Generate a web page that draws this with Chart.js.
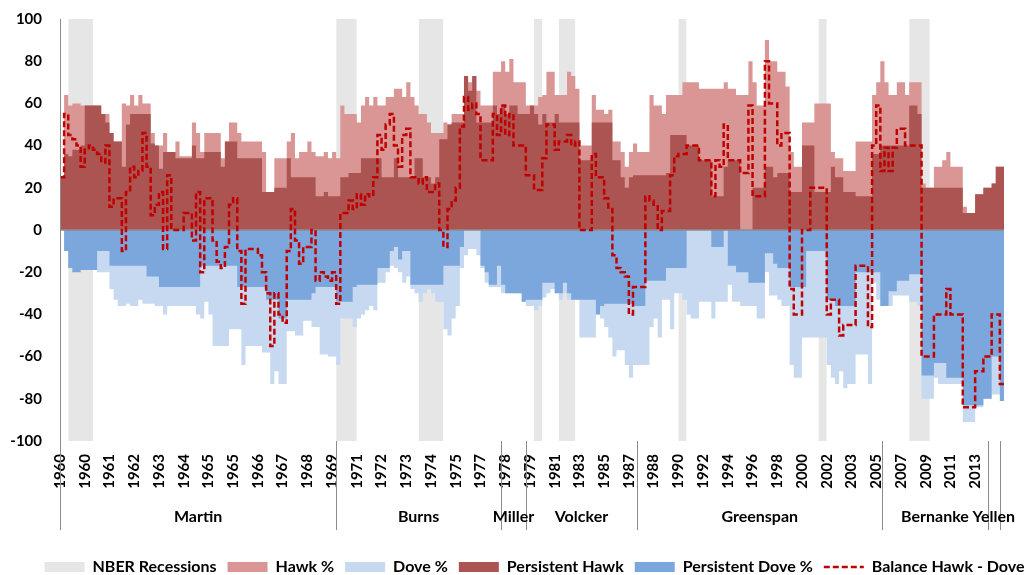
<!DOCTYPE html>
<html><head><meta charset="utf-8">
<script src="https://cdn.jsdelivr.net/npm/chart.js@4.4.0/dist/chart.umd.min.js"></script>
<style>html,body{margin:0;padding:0;background:#fff;}</style>
</head><body>
<canvas id="c" width="1035" height="575"></canvas>
<script>
// ---- tick labels (one every `ticksEvery` meetings) ----
const tickLabels = ['1960','1960','1961','1962','1963','1964','1965','1965','1966','1967','1968','1969',
  '1971','1972','1973','1974','1975','1977','1978','1979','1981','1983','1985','1987','1988','1990',
  '1992','1994','1996','1998','2000','2002','2003','2005','2007','2009','2011','2013'];
const ticksEvery = 6;

// ---- series ----
const hawk = [
 25,64,59,60,60,59,59,59,59,59, 55,55,46,42,42,60,59,64,59,64, 60,60,46,40,40,46,37,37,42,35,
 35,35,51,46,37,46,46,46,46,34, 42,51,51,46,42,42,42,42,42,37, 18,18,34,34,34,42,46,34,37,37,
 42,37,35,35,37,34,37,34,59,55, 55,55,51,59,63,59,63,59,59,63, 63,67,67,63,70,63,59,55,55,51,
 46,46,46,51,50,55,55,55,73,70, 73,66,59,59,59,75,75,80,75,81, 70,70,70,59,59,59,63,
 64,75,75,64,64,64,75,73,67,40, 40,40,64,57,57,55,57,42,42,37, 30,37,41,37,37,37,64,59,59,55,
 64,64,64,64,70,70,70,70,67,67, 67,67,67,67,70,67,67,64,64,64, 80,70,59,59,90,80,80,75,75,68,
 37,30,30,51,51,51,60,60,60,60, 37,34,34,28,28,28,42,42,42,42, 64,70,80,70,64,64,70,70,64,70,
 70,70,22,20,20,30,30,33,37,30, 30,30,11,8,8,17,17,20,20,22, 30,30,30];
const dove = [
 0,-10,-18,-20,-20,-19,-19,-19,-19,-20, -20,-20,-28,-33,-36,-36,-35,-36,-36,-33, -35,-35,-35,-36,-36,-40,-36,-36,-36,-36,
 -36,-36,-36,-40,-42,-34,-40,-55,-55,-55, -55,-47,-47,-47,-64,-55,-55,-55,-55,-58, -58,-73,-67,-73,-73,-48,-48,-50,-50,-43,
 -43,-46,-46,-59,-59,-60,-60,-64,-42,-42, -42,-46,-42,-40,-38,-36,-38,-25,-25,-20, -17,-18,-20,-25,-22,-28,-30,-34,-30,-28,
 -30,-34,-34,-47,-50,-42,-36,-18,-12,-9, -9,-12,-18,-25,-27,-27,-27,-30,-30,-30, -30,-30,-34,-36,-36,-38,-36,
 -32,-30,-28,-30,-33,-30,-33,-33,-33,-51, -51,-51,-51,-40,-42,-46,-51,-60,-57,-57, -64,-70,-64,-64,-64,-64,-46,-42,-51,-33,
 -33,-47,-30,-30,-33,-40,-42,-42,-34,-34, -34,-42,-34,-34,-34,-26,-34,-34,-36,-36, -36,-36,-42,-42,-20,-31,-31,-33,-36,-36,
 -64,-70,-70,-51,-51,-51,-51,-51,-51,-64, -70,-73,-67,-75,-73,-73,-59,-59,-59,-73, -25,-33,-36,-36,-36,-31,-31,-31,-31,-34,
 -34,-36,-80,-80,-80,-70,-73,-73,-73,-73, -73,-73,-91,-91,-91,-84,-84,-80,-80,-78, -78,-81,-81];
const persistentHawk = [
 25,36,35,38,38,40,59,59,59,59, 55,51,46,42,42,30,50,55,55,55, 55,55,41,40,29,37,37,37,34,34,
 34,34,40,34,34,37,37,37,37,30, 42,42,42,34,34,34,34,34,34,18, 18,18,20,20,20,34,25,25,25,25,
 25,25,16,16,18,16,16,16,25,25, 27,27,27,34,34,34,34,34,25,25, 25,34,25,25,25,25,34,34,25,25,
 22,25,43,43,50,51,51,51,73,66, 73,51,51,51,51,59,55,59,55,59, 59,55,55,55,59,55,50,
 55,51,51,55,51,51,51,51,51,33, 33,33,51,51,51,51,51,33,33,25, 20,25,26,26,26,26,26,26,26,26,
 27,45,45,45,45,40,40,40,33,33, 33,16,16,16,30,33,33,33,0,0, 0,20,20,20,30,30,25,27,27,27,
 18,18,18,40,40,40,18,18,18,18, 30,25,25,18,18,18,16,16,16,16, 36,36,40,40,40,40,40,40,40,59,
 59,55,20,20,20,20,20,20,20,20, 20,20,8,8,8,17,17,20,20,22, 30,30,30];
const persistentDove = [
 0,-10,-18,-20,-20,-19,-19,-19,-19,-10, -10,-10,-17,-17,-17,-17,-17,-17,-17,-17, -17,-22,-22,-22,-27,-27,-27,-27,-27,-27,
 -27,-27,-27,-27,-17,-17,-17,-17,-17,-17, -17,-17,-17,-27,-27,-27,-27,-27,-27,-27, -33,-33,-33,-42,-42,-33,-33,-33,-33,-33,
 -33,-30,-27,-27,-27,-27,-27,-34,-34,-34, -34,-27,-26,-26,-26,-26,-26,-18,-18,-18, -10,-8,-14,-10,-10,-26,-26,-26,-26,-26,
 -26,-26,-26,-17,-17,-17,-17,-8,0,0, 0,0,-17,-20,-26,-26,-17,-26,-30,-30, -30,-30,-34,-33,-33,-33,-33,
 -25,-25,-25,-30,-30,-25,-30,-33,-33,-33, -33,-33,-33,-40,-36,-35,-35,-35,-35,-35, -35,-35,-36,-36,-36,-24,-24,-24,-24,-24,
 -18,-18,-18,-18,-18,0,0,0,0,0, 0,-8,-8,-8,0,-17,-17,-20,-20,-20, -25,-25,-25,-25,-11,-11,-16,-18,-18,-18,
 -27,-27,-27,-27,-10,-10,-10,-10,-10,-33, -33,-36,-36,-36,-36,-36,-20,-20,-20,-20, -20,-20,-36,-36,-29,-29,-24,-24,-24,-21,
 -21,-21,-69,-69,-69,-63,-63,-63,-70,-70, -70,-70,-83,-83,-83,-83,-83,-80,-80,-60, -60,-81,-81];
const balance = [
 25,55,45,43,40,30,38,40,38,36, 32,40,11,15,15,-10,18,30,25,28, 46,30,7,12,18,-9,26,0,0,0,
 8,8,-5,18,-20,15,15,-5,-15,-18, -8,12,15,-10,-35,-9,-9,-9,-12,-20, -30,-55,-30,-40,-44,-10,10,-5,-16,-8,
 -8,0,-24,-20,-22,-24,-20,-35,8,8, 14,10,17,12,17,16,25,45,38,50, 55,40,30,45,48,25,25,22,25,18,
 18,22,0,-8,10,14,20,49,63,57, 60,55,33,33,33,55,45,59,45,55, 40,40,40,26,26,19,19,
 34,50,50,38,42,42,45,40,42,0, 0,0,36,25,25,15,10,-12,-18,-20, -22,-40,-27,-27,-27,16,14,12,0,9,
 9,26,35,36,36,40,40,40,33,33, 33,16,33,30,50,33,33,33,27,27, 59,16,16,16,80,60,60,40,46,46,
 -28,-40,-40,0,0,20,20,20,20,-40, -33,-33,-50,-45,-45,-45,-17,-17,-17,-46, 40,59,28,39,28,39,48,48,40,40,
 40,40,-60,-60,-60,-40,-40,-40,-28,-40, -40,-40,-84,-84,-84,-67,-67,-60,-60,-40, -40,-73,-73];

// NBER recessions as [first meeting index, last meeting index]
const recessions = [[2,8],[67,72],[87,93],[115,117],[121,125],[150,152],[184,186],[206,211]];
// Fed chairs as [name, start index, end index]
const chairs = [['Martin',0,67],['Burns',67,107],['Miller',107,113],['Volcker',113,140],
  ['Greenspan',140,199.5],['Bernanke',199.5,225],['Yellen',225,228]];

const meetingIndex = hawk.map((_, i) => i);
const recessionSeries = meetingIndex.map(i => recessions.some(([a, b]) => i >= a && i <= b) ? 100 : null);

Chart.defaults.font.family = 'Lato, "Open Sans", sans-serif';
Chart.defaults.color = '#000';

const LEG_DX = 17, LEG_DY = 10;
const decor = {
  id: 'decor',
  afterLayout(chart) {
    const lg = chart.legend;
    if (lg) { lg.left += LEG_DX; lg.right += LEG_DX; lg.top += LEG_DY; lg.bottom += LEG_DY; }
  },
  beforeDatasetDraw(chart, args) {
    if (args.index !== 5) return;
    const {ctx, chartArea: ca, scales: {y}} = chart;
    const py = y.getPixelForValue(0);
    ctx.save();
    ctx.strokeStyle = '#8c8c8c'; ctx.lineWidth = 1.5;
    ctx.beginPath(); ctx.moveTo(ca.left, py); ctx.lineTo(ca.right, py); ctx.stroke();
    ctx.restore();
  },
  afterDraw(chart) {
    const {ctx, chartArea: ca, scales: {x}} = chart;
    const lineBottom = ca.bottom + 89;
    ctx.save();
    ctx.strokeStyle = '#8c8c8c'; ctx.lineWidth = 1;
    ctx.beginPath();
    ctx.moveTo(Math.round(ca.left) + 0.5, ca.top); ctx.lineTo(Math.round(ca.left) + 0.5, lineBottom);
    chairs.forEach(([, , end]) => {
      const px = Math.round(x.getPixelForValue(end)) + 0.5;
      ctx.moveTo(px, ca.bottom); ctx.lineTo(px, lineBottom);
    });
    ctx.stroke();
    ctx.font = 'bold 16px Lato, "Open Sans", sans-serif';
    ctx.fillStyle = '#000'; ctx.textAlign = 'center'; ctx.textBaseline = 'middle';
    chairs.forEach(([name, s, e]) => {
      ctx.fillText(name, (x.getPixelForValue(s) + x.getPixelForValue(e)) / 2, ca.bottom + 76);
    });
    ctx.restore();
  }
};

const area = (label, data, color, order) => ({
  label, data, order, backgroundColor: color, borderColor: 'rgba(0,0,0,0)', borderWidth: 0,
  fill: 'origin', stepped: true, pointRadius: 0, pointStyle: 'rect'
});

new Chart(document.getElementById('c'), {
  type: 'line',
  data: {
    labels: meetingIndex,
    datasets: [
      { label: 'NBER Recessions', data: recessionSeries, order: 5, backgroundColor: '#e6e6e6',
        borderColor: 'rgba(0,0,0,0)', borderWidth: 0, fill: {value: -100}, stepped: true,
        pointRadius: 0, pointStyle: 'rect', spanGaps: false },
      area('Hawk %', hawk, '#d99694', 4),
      area('Dove %', dove, '#c6d9f1', 3),
      area('Persistent Hawk', persistentHawk, '#ab5452', 2),
      area('Persistent Dove %', persistentDove, '#7ca7dc', 1),
      { label: 'Balance Hawk - Dove', data: balance, order: 0, borderColor: '#c00000', backgroundColor: '#c00000',
        borderWidth: 2.5, borderDash: [6, 3], fill: false, stepped: true, pointRadius: 0, pointStyle: 'line' }
    ]
  },
  options: {
    responsive: false, animation: false, events: [],
    layout: { padding: { top: 19, left: 0, right: 0, bottom: 0 } },
    scales: {
      x: {
        type: 'category', offset: false,
        grid: { display: false, drawTicks: false }, border: { display: false },
        ticks: { autoSkip: false, maxRotation: 90, minRotation: 90, padding: 13, color: '#000',
          font: { size: 15, weight: 'bold' },
          callback: (v, i) => i % ticksEvery === 0 ? (tickLabels[i / ticksEvery] || '') : '' },
        afterFit: s => { s.height = 97; }
      },
      y: {
        min: -100, max: 100,
        grid: { display: false, drawTicks: false }, border: { display: false },
        ticks: { stepSize: 20, padding: 18, color: '#000', font: { size: 15, weight: 'bold' } },
        afterFit: s => { s.width = 60; s.paddingTop = 0; s.paddingBottom = 0; }
      },
      yR: {
        position: 'right', grid: { display: false, drawTicks: false }, border: { display: false },
        ticks: { display: false }, afterFit: s => { s.width = 28; s.paddingTop = 0; s.paddingBottom = 0; }
      }
    },
    plugins: {
      tooltip: { enabled: false },
      legend: {
        position: 'bottom',
        labels: {
          usePointStyle: true, pointStyleWidth: 40, boxHeight: 10, padding: 11, color: '#000',
          font: { size: 16, weight: 'bold' },
          sort: (a, b) => a.datasetIndex - b.datasetIndex,
          generateLabels(chart) {
            const items = Chart.defaults.plugins.legend.labels.generateLabels(chart);
            items.forEach(it => {
              const ds = chart.data.datasets[it.datasetIndex];
              it.fillStyle = ds.backgroundColor;
              it.strokeStyle = ds.borderColor;
              it.lineWidth = ds.borderWidth;
              it.lineDash = ds.borderDash || [];
            });
            return items;
          }
        }
      }
    }
  },
  plugins: [decor]
});
</script>
</body></html>
